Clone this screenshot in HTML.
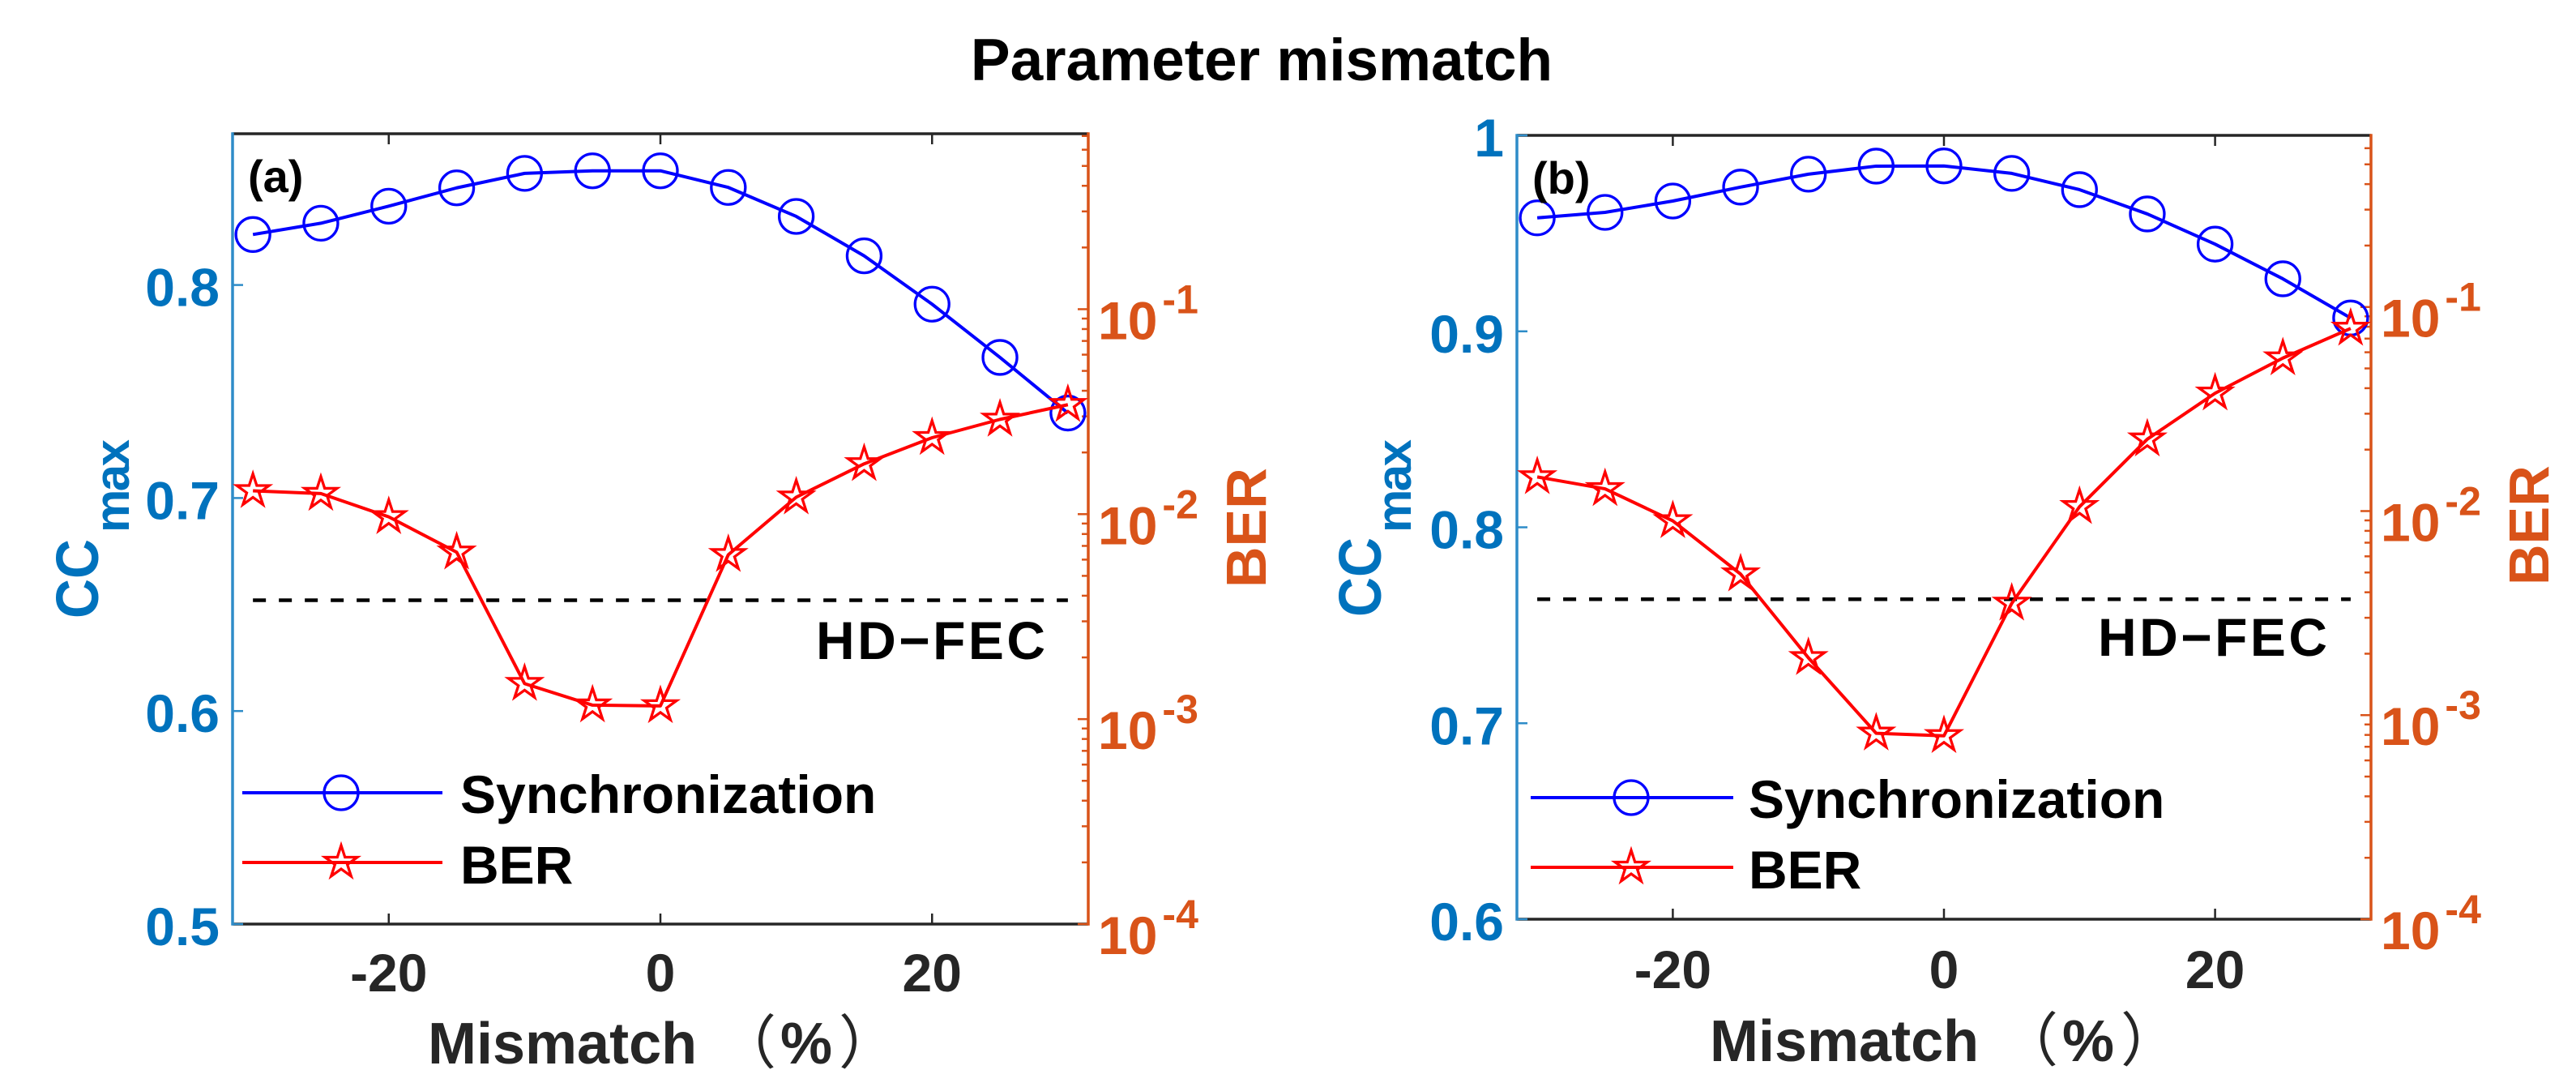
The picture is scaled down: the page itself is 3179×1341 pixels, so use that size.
<!DOCTYPE html>
<html lang="en">
<head>
<meta charset="utf-8">
<title>Parameter mismatch</title>
<style>
html,body{margin:0;padding:0;background:#fff;}
svg{display:block;}
text{font-family:"Liberation Sans","Noto Sans CJK SC",sans-serif;font-weight:bold;}
</style>
</head>
<body>
<svg id="chart" xmlns="http://www.w3.org/2000/svg" width="3179" height="1341" viewBox="0 0 3179 1341">
  <rect x="0" y="0" width="3179" height="1341" fill="#fff"/>
  <text x="1557" y="99" font-size="73" text-anchor="middle" fill="#000">Parameter mismatch</text>

  <g id="panel-a"></g>
  <g id="panel-b"></g>

  <text x="306" y="237" font-size="56" fill="#000">(a)</text>
  <text x="1891" y="239" font-size="56" fill="#000">(b)</text>

  <text transform="translate(121,763) rotate(-90)" font-size="74" fill="#0072BD" textLength="98" lengthAdjust="spacingAndGlyphs">CC</text>
  <text transform="translate(159,657) rotate(-90)" font-size="60" fill="#0072BD" textLength="115">max</text>
  <text transform="translate(1562,725) rotate(-90)" font-size="70" fill="#D95319">BER</text>
  <text transform="translate(1704,761) rotate(-90)" font-size="74" fill="#0072BD" textLength="98" lengthAdjust="spacingAndGlyphs">CC</text>
  <text transform="translate(1741,657) rotate(-90)" font-size="60" fill="#0072BD" textLength="115">max</text>
  <text transform="translate(3145,722) rotate(-90)" font-size="70" fill="#D95319">BER</text>

  <text x="528" y="1312" font-size="72" fill="#262626">Mismatch</text>
  <text y="1312" font-size="72" fill="#262626"><tspan x="886" font-weight="normal">（</tspan><tspan x="963">%</tspan><tspan x="1035" font-weight="normal">）</tspan></text>
  <text x="2110" y="1309" font-size="72" fill="#262626">Mismatch</text>
  <text y="1309" font-size="72" fill="#262626"><tspan x="2468" font-weight="normal">（</tspan><tspan x="2545">%</tspan><tspan x="2617" font-weight="normal">）</tspan></text>

  <text x="1007" y="813" font-size="66" fill="#000" textLength="283">HD−FEC</text>
  <text x="2589" y="809" font-size="66" fill="#000" textLength="283">HD−FEC</text>

  <g>
    <line x1="299" y1="978" x2="546" y2="978" stroke="#0000FF" stroke-width="4"/>
    <circle cx="421" cy="978" r="21" fill="none" stroke="#0000FF" stroke-width="3.3"/>
    <text x="568" y="1003" font-size="66" fill="#000">Synchronization</text>
    <line x1="299" y1="1064" x2="546" y2="1064" stroke="#FF0000" stroke-width="4"/>
    <polygon class="legend-star" data-cx="421" data-cy="1064" fill="none" stroke="#FF0000" stroke-width="3.3" stroke-miterlimit="10"/>
    <text x="568" y="1090" font-size="66" fill="#000">BER</text>
  </g>
  <g>
    <line x1="1889" y1="984" x2="2139" y2="984" stroke="#0000FF" stroke-width="4"/>
    <circle cx="2013" cy="984" r="21" fill="none" stroke="#0000FF" stroke-width="3.3"/>
    <text x="2158" y="1009" font-size="66" fill="#000">Synchronization</text>
    <line x1="1889" y1="1070" x2="2139" y2="1070" stroke="#FF0000" stroke-width="4"/>
    <polygon class="legend-star" data-cx="2013" data-cy="1070" fill="none" stroke="#FF0000" stroke-width="3.3" stroke-miterlimit="10"/>
    <text x="2158" y="1096" font-size="66" fill="#000">BER</text>
  </g>
</svg>

<script>
// ---- chart data ----
const mismatchPercent = [-30, -25, -20, -15, -10, -5, 0, 5, 10, 15, 20, 25, 30];
const ccMaxPanelA = [0.8237, 0.8290, 0.8370, 0.8456, 0.8524, 0.8536, 0.8536, 0.8458, 0.8322, 0.8137, 0.7910, 0.7660, 0.7399];
const berPanelA = [0.0130, 0.0126, 0.0097, 0.00652, 0.00149, 0.00117, 0.00116, 0.00634, 0.0121, 0.0176, 0.0236, 0.029, 0.0342];
const ccMaxPanelB = [0.9579, 0.9607, 0.9665, 0.9736, 0.9802, 0.9843, 0.9844, 0.9806, 0.9723, 0.9599, 0.9445, 0.9268, 0.9068];
const berPanelB = [0.0147, 0.01285, 0.00895, 0.00491, 0.00191, 0.000815, 0.000792, 0.00353, 0.0105, 0.0225, 0.0378, 0.0562, 0.0785];
const hdFecThresholdA = [0.0038];
const hdFecThresholdB = [0.0037];
const thresholdSpan = [-30, 30];
const xTickValues = [-20, 0, 20];
const ccTicksPanelA = ['0.5', '0.6', '0.7', '0.8'];
const ccTicksPanelB = ['0.6', '0.7', '0.8', '0.9', '1'];
const berTickExponents = [-4, -3, -2, -1];
const berMinorMultiples = [2, 3, 4, 5, 6, 7, 8, 9];

// ---- layout ----
const NS = 'http://www.w3.org/2000/svg';
const panelA = {
  id: 'panel-a', x0: 287, x1: 1343, yBottom: 1140, yTop: 165, xLabelOffset: 83,
  xMin: -31.5, xMax: 31.5, ccMin: 0.5, ccMax: 0.871, logMin: -4, logMax: -0.144,
  cc: ccMaxPanelA, ber: berPanelA, ccTicks: ccTicksPanelA, threshold: hdFecThresholdA
};
const panelB = {
  id: 'panel-b', x0: 1872, x1: 2926, yBottom: 1134, yTop: 167, xLabelOffset: 85,
  xMin: -31.5, xMax: 31.5, ccMin: 0.6, ccMax: 1, logMin: -4, logMax: -0.159,
  cc: ccMaxPanelB, ber: berPanelB, ccTicks: ccTicksPanelB, threshold: hdFecThresholdB
};

function xScale(p, v) { return p.x0 + (v - p.xMin) / (p.xMax - p.xMin) * (p.x1 - p.x0); }
function ccScale(p, v) { return p.yBottom - (v - p.ccMin) / (p.ccMax - p.ccMin) * (p.yBottom - p.yTop); }
function berScale(p, v) { return p.yBottom - (Math.log10(v) - p.logMin) / (p.logMax - p.logMin) * (p.yBottom - p.yTop); }

function starPoints(cx, cy, outer) {
  const inner = outer * 0.382;
  const pts = [];
  for (let i = 0; i < 10; i++) {
    const r = i % 2 === 0 ? outer : inner;
    const a = -Math.PI / 2 + i * Math.PI / 5;
    pts.push((cx + r * Math.cos(a)).toFixed(2) + ',' + (cy + r * Math.sin(a)).toFixed(2));
  }
  return pts.join(' ');
}

function makeLine(parent, x1, y1, x2, y2, color, width) {
  const el = document.createElementNS(NS, 'line');
  el.setAttribute('x1', x1);
  el.setAttribute('y1', y1);
  el.setAttribute('x2', x2);
  el.setAttribute('y2', y2);
  el.setAttribute('stroke', color);
  el.setAttribute('stroke-width', width);
  parent.appendChild(el);
  return el;
}

function makeText(parent, x, y, size, color, anchor, content) {
  const el = document.createElementNS(NS, 'text');
  el.setAttribute('x', x);
  el.setAttribute('y', y);
  el.setAttribute('font-size', size);
  el.setAttribute('fill', color);
  el.setAttribute('text-anchor', anchor);
  el.textContent = content;
  parent.appendChild(el);
  return el;
}

function drawPanel(p) {
  const g = document.getElementById(p.id);
  const LEFT = '#2E8CC8', RIGHT = '#D95319', DARK = '#262626';

  // frame: top and bottom in dark, left and right in axis colours
  const topLine = makeLine(g, p.x0, p.yTop, p.x1, p.yTop, DARK, 3.5);
  
  
  const bottomLine = makeLine(g, p.x0, p.yBottom, p.x1, p.yBottom, DARK, 3.5);
  
  

  // x ticks on both top and bottom
  xTickValues.forEach(function (v) {
    const x = xScale(p, v);
    const tb = makeLine(g, x, p.yBottom, x, p.yBottom - 13, DARK, 2.5);
    
    
    const tt = makeLine(g, x, p.yTop, x, p.yTop + 13, DARK, 2.5);
    
    
    const lab = makeText(g, x, p.yBottom + p.xLabelOffset, 66, DARK, 'middle', String(v));
    
    
  });

  // left axis
  const leftLine = makeLine(g, p.x0, p.yTop - 1.75, p.x0, p.yBottom + 1.75, LEFT, 3.5);
  
  
  p.ccTicks.forEach(function (label) {
    const y = ccScale(p, parseFloat(label));
    const t = makeLine(g, p.x0, y, p.x0 + 13, y, LEFT, 2.5);
    
    
    const lab = makeText(g, p.x0 - 16, y + 26, 66, '#0072BD', 'end', label);
    
    
  });

  // right axis (log)
  const rightLine = makeLine(g, p.x1, p.yTop - 1.75, p.x1, p.yBottom + 1.75, RIGHT, 3.5);
  
  
  berTickExponents.forEach(function (e) {
    const major = Math.pow(10, e);
    const y = berScale(p, major);
    const t = makeLine(g, p.x1, y, p.x1 - 13, y, RIGHT, 2.5);
    
    
    const lab = makeText(g, p.x1 + 12, y + 37, 66, RIGHT, 'start', '10');
    
    
    const exp = document.createElementNS(NS, 'tspan');
    exp.setAttribute('font-size', 50);
    exp.setAttribute('dy', -32);
    exp.setAttribute('dx', 6);
    exp.textContent = String(e);
    lab.appendChild(exp);
    berMinorMultiples.forEach(function (m) {
      const my = berScale(p, major * m);
      if (my >= p.yTop) {
        const mt = makeLine(g, p.x1, my, p.x1 - 8, my, RIGHT, 2.5);
        
        
      }
    });
  });

  // HD-FEC threshold
  const yT = berScale(p, p.threshold[0]);
  const th = makeLine(g, xScale(p, thresholdSpan[0]), yT, xScale(p, thresholdSpan[1]), yT, '#000', 4.5);
  th.setAttribute('stroke-dasharray', '16 16');
  
  

  // synchronization series
  const ccLine = document.createElementNS(NS, 'polyline');
  ccLine.setAttribute('points', mismatchPercent.map(function (v, i) {
    return xScale(p, v).toFixed(2) + ',' + ccScale(p, p.cc[i]).toFixed(2);
  }).join(' '));
  ccLine.setAttribute('fill', 'none');
  ccLine.setAttribute('stroke', '#0000FF');
  ccLine.setAttribute('stroke-width', 4);
  ccLine.setAttribute('stroke-linejoin', 'round');
  
  
  g.appendChild(ccLine);
  mismatchPercent.forEach(function (v, i) {
    const c = document.createElementNS(NS, 'circle');
    c.setAttribute('cx', xScale(p, v).toFixed(2));
    c.setAttribute('cy', ccScale(p, p.cc[i]).toFixed(2));
    c.setAttribute('r', 21);
    c.setAttribute('fill', 'none');
    c.setAttribute('stroke', '#0000FF');
    c.setAttribute('stroke-width', 3.3);
    
    
    g.appendChild(c);
  });

  // BER series
  const berLine = document.createElementNS(NS, 'polyline');
  berLine.setAttribute('points', mismatchPercent.map(function (v, i) {
    return xScale(p, v).toFixed(2) + ',' + berScale(p, p.ber[i]).toFixed(2);
  }).join(' '));
  berLine.setAttribute('fill', 'none');
  berLine.setAttribute('stroke', '#FF0000');
  berLine.setAttribute('stroke-width', 4);
  berLine.setAttribute('stroke-linejoin', 'round');
  
  
  g.appendChild(berLine);
  mismatchPercent.forEach(function (v, i) {
    const s = document.createElementNS(NS, 'polygon');
    s.setAttribute('points', starPoints(xScale(p, v), berScale(p, p.ber[i]), 21));
    s.setAttribute('fill', 'none');
    s.setAttribute('stroke', '#FF0000');
    s.setAttribute('stroke-width', 3.3);
    s.setAttribute('stroke-miterlimit', 10);
    
    
    g.appendChild(s);
  });
}

drawPanel(panelA);
drawPanel(panelB);

document.querySelectorAll('.legend-star').forEach(function (el) {
  el.setAttribute('points', starPoints(parseFloat(el.getAttribute('data-cx')), parseFloat(el.getAttribute('data-cy')), 21));
});
</script>
</body>
</html>
